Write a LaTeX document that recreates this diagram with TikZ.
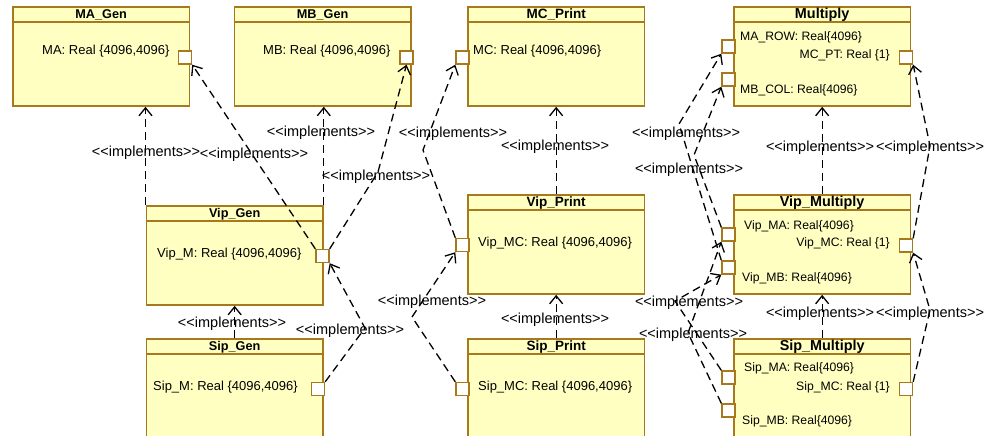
\documentclass[tikz,border=0pt]{standalone}
\usepackage{fontspec}
\setmainfont[Ligatures=NoCommon]{Liberation Sans}
\usetikzlibrary{arrows.meta}
\definecolor{boxfill}{HTML}{FFFFC2}
\definecolor{boxline}{HTML}{A67A1C}
\newcommand{\impltext}{<{}<implements>{}>}
\begin{document}
\begin{tikzpicture}[x=1pt,y=-1pt,
 umlbox/.style={draw=boxline, line width=1.8pt, fill=boxfill, anchor=north west, inner sep=0, minimum width=176.5pt},
 divline/.style={draw=boxline, line width=1.3pt},
 port/.style={draw=boxline, line width=1.4pt, fill=white, minimum size=13pt, inner sep=0},
 hdrS/.style={font=\fontsize{12.7}{15}\selectfont\bfseries, anchor=base, inner sep=0},
 hdrM/.style={font=\fontsize{13.5}{15}\selectfont\bfseries, anchor=base, inner sep=0},
 hdrL/.style={font=\fontsize{14.4}{16}\selectfont\bfseries, anchor=base, inner sep=0},
 body/.style={font=\fontsize{13}{15}\selectfont, anchor=base west, inner sep=0},
 bodyS/.style={font=\fontsize{12.2}{14}\selectfont, anchor=base west, inner sep=0},
 bodySR/.style={font=\fontsize{12.2}{14}\selectfont, anchor=base east, inner sep=0},
 impl/.style={dash pattern=on 8pt off 5pt, line width=1.3pt, -{Straight Barb[length=8pt,width=13pt]}},
 lbl/.style={font=\fontsize{14.5}{16}\selectfont, anchor=base, inner sep=0}]
\useasboundingbox (0,0) rectangle (997,436);
\clip (0,0) rectangle (997,436);

% ---------- boxes ----------
\node[umlbox, minimum height=99pt] (MA) at (12,6) {};
\node[umlbox, minimum height=99pt] (MB) at (233.5,6) {};
\node[umlbox, minimum height=99pt] (MC) at (467,6) {};
\node[umlbox, minimum height=99pt] (MUL) at (733,6) {};
\node[umlbox, minimum height=99pt] (VG) at (145.5,205) {};
\node[umlbox, minimum height=140pt] (SG) at (145.5,338) {};
\node[umlbox, minimum height=99pt] (VP) at (467,194) {};
\node[umlbox, minimum height=140pt] (SP) at (467,338) {};
\node[umlbox, minimum height=99pt] (VM) at (733,194) {};
\node[umlbox, minimum height=140pt] (SM) at (733,338) {};

\foreach \b in {MA,MB,MC,MUL,VG,SG,VP,SP,VM,SM}
  \draw[divline] ([yshift=-16pt]\b.north west) -- ([yshift=-16pt]\b.north east);

% ---------- headers ----------
\node[hdrS] (hMA) at ([yshift=-12.3pt]MA.north) {MA\_Gen};
\node[hdrS] (hMB) at ([yshift=-12.3pt]MB.north) {MB\_Gen};
\node[hdrM] (hMC) at ([yshift=-12.5pt]MC.north) {MC\_Print};
\node[hdrL] (hMUL) at ([yshift=-12.8pt]MUL.north) {Multiply};
\node[hdrS] (hVG) at ([yshift=-12.3pt]VG.north) {Vip\_Gen};
\node[hdrS] (hSG) at ([yshift=-12.3pt]SG.north) {Sip\_Gen};
\node[hdrM] (hVP) at ([yshift=-12.5pt]VP.north) {Vip\_Print};
\node[hdrM] (hSP) at ([yshift=-12.5pt]SP.north) {Sip\_Print};
\node[hdrL] (hVM) at ([yshift=-12.8pt]VM.north) {Vip\_Multiply};
\node[hdrL] (hSM) at ([yshift=-12.8pt]SM.north) {Sip\_Multiply};

% ---------- body texts ----------
\node[body] (tMA) at (42,55) {MA: Real \{4096,4096\}};
\node[body] (tMB) at (263,55) {MB: Real \{4096,4096\}};
\node[body] (tMC) at (473,55) {MC: Real \{4096,4096\}};
\node[bodyS] (tMROW) at (740,41) {MA\_ROW: Real\{4096\}};
\node[bodySR] (tMPT) at (890,59) {MC\_PT: Real \{1\}};
\node[bodyS] (tMCOL) at (740,93) {MB\_COL: Real\{4096\}};
\node[body] (tVG) at (157,257) {Vip\_M: Real \{4096,4096\}};
\node[body] (tSG) at (153,390) {Sip\_M: Real \{4096,4096\}};
\node[body] (tVP) at (478,246.5) {Vip\_MC: Real \{4096,4096\}};
\node[body] (tSP) at (478,390) {Sip\_MC: Real \{4096,4096\}};
\node[bodyS] (tVMA) at (744,229) {Vip\_MA: Real\{4096\}};
\node[bodySR] (tVMC) at (890,246.5) {Vip\_MC: Real \{1\}};
\node[bodyS] (tVMB) at (742,281) {Vip\_MB: Real\{4096\}};
\node[bodyS] (tSMA) at (744,371.5) {Sip\_MA: Real\{4096\}};
\node[bodySR] (tSMC) at (890,390) {Sip\_MC: Real \{1\}};
\node[bodyS] (tSMB) at (742,424) {Sip\_MB: Real\{4096\}};

% ---------- ports ----------
\node[port] (pMA) at (185,57.5) {};
\node[port] (pMB) at (406.5,57.5) {};
\node[port] (pMC) at (462.5,57.5) {};
\node[port] (pMROW) at (728.5,46.5) {};
\node[port] (pMCOL) at (728.5,79.5) {};
\node[port] (pMPT) at (906,57.5) {};
\node[port] (pVG) at (322.5,256) {};
\node[port] (pSG) at (318,389) {};
\node[port] (pVP) at (462.5,245) {};
\node[port] (pSP) at (462.5,389) {};
\node[port] (pVMA) at (728.5,234.5) {};
\node[port] (pVMB) at (728.5,267.5) {};
\node[port] (pVMC) at (906,245.5) {};
\node[port] (pSMA) at (728.5,377.5) {};
\node[port] (pSMB) at (728.5,410.5) {};
\node[port] (pSMC) at (906,389) {};

% ---------- bend points ----------
\coordinate (b4) at (378,172);
\coordinate (b5) at (423,150);
\coordinate (b7) at (679,124);
\coordinate (b8) at (694,155);
\coordinate (b10) at (930,146);
\coordinate (b12) at (365,328);
\coordinate (b13) at (412,317);
\coordinate (b15) at (675,301);
\coordinate (b16) at (688,333);
\coordinate (b18) at (930,310);

% ---------- connectors ----------
\draw[impl] (VG.north west) -- (VG.north west |- MA.south);
\draw[impl] (pVG.north west) -- (pMA.south east);
\draw[impl] (VG.north east) -- (VG.north east |- MB.south);
\draw[impl] (pVG.north east) -- (b4) -- (pMB.south);
\draw[impl] (pVP.north west) -- (b5) -- (pMC.south west);
\draw[impl] (VP.north) -- (MC.south);
\draw[impl] (pVMB.north west) -- (b7) -- (pMROW.south west);
\draw[impl] (pVMA.north west) -- (b8) -- (pMCOL.south west);
\draw[impl] (VM.north) -- (MUL.south);
\draw[impl] (pVMC.north east) -- (b10) -- (pMPT.south east);
\draw[impl] (SG.north) -- (VG.south);
\draw[impl] (pSG.north east) -- (b12) -- (pVG.south east);
\draw[impl] (pSP.north west) -- (b13) -- (pVP.south west);
\draw[impl] (SP.north) -- (VP.south);
\draw[impl] (pSMA.north west) -- (b15) -- (pVMB.south west);
\draw[impl] (pSMB.north west) -- (b16) -- (pVMA.south west);
\draw[impl] (SM.north) -- (VM.south);
\draw[impl] (pSMC.north east) -- (b18) -- (pVMC.south east);

% ---------- labels ----------
\node[lbl] (l1) at (146,157) {\impltext};
\node[lbl] (l2) at (254,158) {\impltext};
\node[lbl] (l3) at (321,136) {\impltext};
\node[lbl] (l4) at (376,180) {\impltext};
\node[lbl] (l5) at (453,137) {\impltext};
\node[lbl] (l6) at (555,150) {\impltext};
\node[lbl] (l7) at (686,137) {\impltext};
\node[lbl] (l8) at (689,173) {\impltext};
\node[lbl] (l9) at (820,151) {\impltext};
\node[lbl] (l10) at (930,151) {\impltext};
\node[lbl] (l11) at (232,327) {\impltext};
\node[lbl] (l12) at (350,334) {\impltext};
\node[lbl] (l13) at (432,305) {\impltext};
\node[lbl] (l14) at (555,323) {\impltext};
\node[lbl] (l15) at (689,306) {\impltext};
\node[lbl] (l16) at (693,338) {\impltext};
\node[lbl] (l17) at (820,317) {\impltext};
\node[lbl] (l18) at (930,317) {\impltext};
\end{tikzpicture}
\end{document}
